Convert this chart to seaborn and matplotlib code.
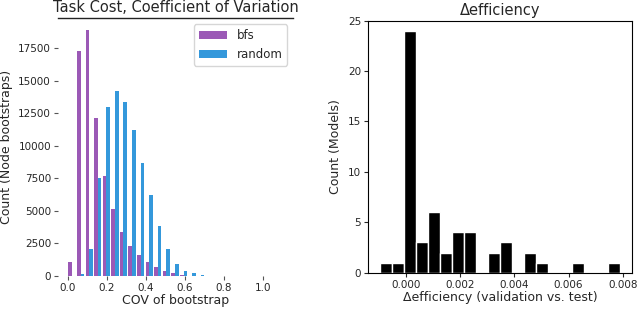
import numpy as np
import pandas as pd
import matplotlib
matplotlib.use("Agg")
import matplotlib.pyplot as plt
import seaborn as sns

# left panel: COV of bootstrap, 25 bins over [0, 1.1]
cov_edges = list(np.linspace(0, 1.1, 26))
bfs_counts = [1050, 17250, 18850, 12150, 7700, 5150, 3400, 2300, 1600, 1080,
              690, 410, 250, 80, 30, 0, 0, 0, 0, 0, 0, 0, 0, 0, 0]
random_counts = [0, 150, 2070, 7550, 12950, 14200, 13350, 11200, 8700, 6200,
                 3820, 2060, 920, 400, 200, 100, 30, 0, 0, 0, 0, 0, 0, 0, 0]
methods = ["bfs", "random"]

# right panel: delta efficiency, 20 bins
eff_edges = list(np.linspace(-0.00096, 0.0079, 21))
eff_counts = [1, 1, 24, 3, 6, 2, 4, 4, 0, 2, 3, 0, 2, 1, 0, 0, 1, 0, 0, 1]

sns.set_style("white")
plt.rcParams["font.family"] = ["DejaVu Sans"]

cov_centers = [(a + b) / 2 for a, b in zip(cov_edges[:-1], cov_edges[1:])]
df = pd.DataFrame({
    "cov": cov_centers + cov_centers,
    "count": bfs_counts + random_counts,
    "method": ["bfs"] * len(bfs_counts) + ["random"] * len(random_counts),
})

eff_centers = [(a + b) / 2 for a, b in zip(eff_edges[:-1], eff_edges[1:])]
df_eff = pd.DataFrame({"eff": eff_centers, "count": eff_counts})

fig = plt.figure(figsize=(6.4, 3.09), dpi=100)
ax1 = fig.add_axes([0.0906, 0.1068, 0.367, 0.835])
ax2 = fig.add_axes([0.575, 0.1175, 0.4125, 0.8155])

# left
sns.histplot(data=df, x="cov", weights="count", hue="method", hue_order=methods,
             bins=cov_edges, multiple="dodge", shrink=0.85,
             palette=["#9b59b6", "#3498db"], alpha=1, linewidth=0, ax=ax1)
ax1.set_xlim(-0.05, 1.155)
ax1.set_ylim(0, 19800)
ax1.set_yticks([0, 2500, 5000, 7500, 10000, 12500, 15000, 17500])
ax1.set_xticks([0.0, 0.2, 0.4, 0.6, 0.8, 1.0])
for s in ["left", "right", "bottom"]:
    ax1.spines[s].set_visible(False)
ax1.spines["top"].set_color("#222222")
ax1.spines["top"].set_linewidth(1.0)
ax1.tick_params(axis="both", labelsize=7.5, length=3, width=0.8,
                color="#555555", direction="out", left=True, bottom=True, pad=2)
ax1.set_title("Task Cost, Coefficient of Variation", fontsize=10.5, pad=4)
ax1.set_xlabel("COV of bootstrap", fontsize=9, labelpad=1)
ax1.set_ylabel("Count (Node bootstraps)", fontsize=9)
sns.move_legend(ax1, "upper right", title=None, fontsize=8.5,
                frameon=True, bbox_to_anchor=(0.985, 0.985), borderaxespad=0.2,
                handlelength=2.4)

# right
sns.histplot(data=df_eff, x="eff", weights="count", bins=eff_edges, color="black",
             edgecolor="white", linewidth=1, alpha=1, ax=ax2)
ax2.set_ylim(0, 25)
ax2.set_xticks([0.0, 0.002, 0.004, 0.006, 0.008])
ax2.set_xticklabels(["0.000", "0.002", "0.004", "0.006", "0.008"])
for s in ax2.spines.values():
    s.set_visible(True)
    s.set_color("black")
    s.set_linewidth(0.8)
ax2.tick_params(axis="both", labelsize=7.5, length=3, width=0.8,
                direction="out", left=True, bottom=True, pad=2)
ax2.set_title("\u0394efficiency", fontsize=10.5, pad=4)
ax2.set_xlabel("\u0394efficiency (validation vs. test)", fontsize=9, labelpad=1)
ax2.set_ylabel("Count (Models)", fontsize=9)

fig.savefig("out.png", dpi=100)
